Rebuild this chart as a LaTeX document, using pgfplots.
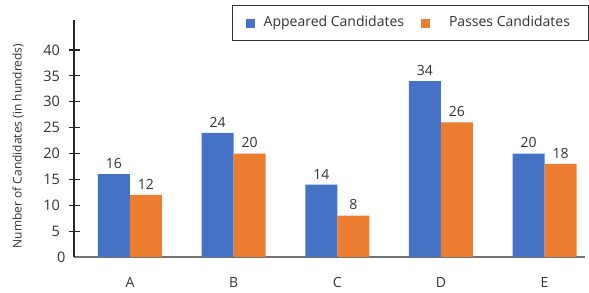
\documentclass[border=0pt]{standalone}
\usepackage{pgfplots}
\pgfplotsset{compat=1.18}
\usepackage{fontspec}
\setmainfont{Open Sans}
\definecolor{appblue}{HTML}{4472C4}
\definecolor{passorange}{HTML}{ED7D31}
\definecolor{txt}{HTML}{333333}
\begin{document}
\begin{tikzpicture}
\path[use as bounding box] (0,0) rectangle (589bp,293bp);
\begin{axis}[
  at={(74bp,36bp)}, anchor=south west,
  scale only axis, width=511bp, height=237bp,
  xmin=-0.54, xmax=4.39, ymin=0, ymax=45.8,
  axis x line=bottom, axis y line=left,
  x axis line style={-, draw=black!55, line width=1.6bp},
  y axis line style={-, draw=black!85, line width=1.4bp},
  ybar=0pt, bar width=32bp,
  xtick={0,1,2,3,4}, xticklabels={A,B,C,D,E},
  major x tick style={draw=none},
  ytick={5,10,...,40},
  extra y ticks={0}, extra y tick style={major tick length=0pt},
  tick align=center, major tick length=11bp,
  y tick style={draw=black!85, line width=1.2bp},
  /pgf/number format/assume math mode=true,
  yticklabel style={font=\fontsize{14.5bp}{16bp}\selectfont, text=txt, xshift=-5bp},
  xticklabel style={font=\fontsize{14bp}{16bp}\selectfont, text=txt, yshift=-11bp},
  every axis y label/.style={at={(axis description cs:-0.1096,0.468)}, rotate=90, anchor=center, font=\fontsize{12bp}{14bp}\selectfont, text=txt},
  ylabel={Number of Candidates (in hundreds)},
  nodes near coords,
  nodes near coords style={font=\fontsize{14bp}{16bp}\selectfont, text=txt, yshift=2bp},
  legend columns=2,
  legend style={at={(0.3092,1.0633)}, anchor=north west, draw=black!80, line width=1.4bp,
    inner xsep=13bp, inner ysep=10.5bp,
    nodes={inner sep=0pt, text height=10.5bp, text depth=3.5bp, font=\fontsize{14bp}{16bp}\selectfont, text=txt},
    column sep=9bp,
    /tikz/every even column/.append style={column sep=17bp}},
]
\addplot[fill=appblue, draw=none,
  legend image code/.code={\fill[appblue] (0bp,-4.5bp) rectangle (9bp,4.5bp);}]
  coordinates {(0,16) (1,24) (2,14) (3,34) (4,20)};
\addplot[fill=passorange, draw=none,
  legend image code/.code={\fill[passorange] (0bp,-4.5bp) rectangle (9bp,4.5bp);}]
  coordinates {(0,12) (1,20) (2,8) (3,26) (4,18)};
\legend{Appeared Candidates, \makebox[137bp][l]{\hspace*{10bp}Passes Candidates}}
\end{axis}
\end{tikzpicture}
\end{document}
